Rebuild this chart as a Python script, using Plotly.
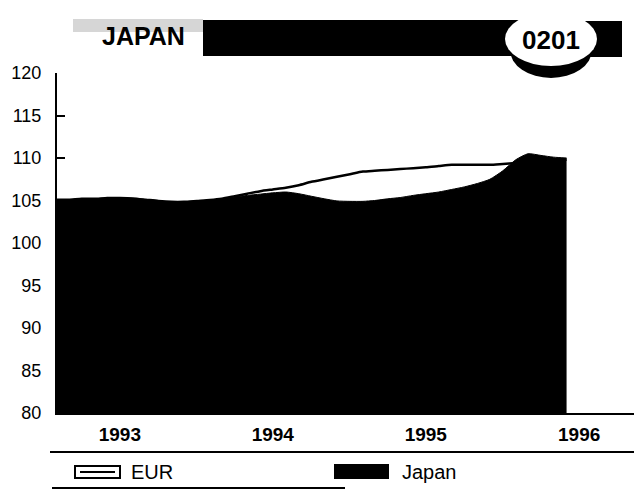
import plotly.graph_objects as go
import pandas as pd

# ---- data (monthly index, 1993-02 .. 1996-06) ----
months = pd.date_range("1993-02-01", "1996-06-01", freq="MS")
japan = [105.1, 105.1, 105.2, 105.2, 105.3, 105.3, 105.25, 105.1, 104.95, 104.85,
         104.85, 104.95, 105.05, 105.2, 105.4, 105.6, 105.75, 105.9, 106.0, 105.8,
         105.5, 105.2, 104.95, 104.9, 104.9, 105.0, 105.2, 105.35, 105.6, 105.8,
         106.0, 106.3, 106.6, 107.0, 107.5, 108.5, 109.8, 110.5, 110.3, 110.1, 110.0]
eur = [105.1, 105.1, 105.2, 105.2, 105.3, 105.3, 105.25, 105.1, 104.95, 104.85,
       104.85, 104.95, 105.05, 105.2, 105.5, 105.8, 106.1, 106.3, 106.5, 106.8,
       107.2, 107.5, 107.8, 108.1, 108.4, 108.5, 108.6, 108.7, 108.8, 108.9,
       109.05, 109.2, 109.2, 109.2, 109.2, 109.3, 109.4, 109.5, 109.6, 109.7, 109.8]
year_ticks = ["1993-07-01", "1994-07-01", "1995-07-01", "1996-07-01"]
year_labels = ["1993", "1994", "1995", "1996"]
y_ticks = [80, 85, 90, 95, 100, 105, 110, 115, 120]
title_text = "JAPAN"
code_text = "0201"
series_names = ["EUR", "Japan"]

# ---- geometry (page has an 8px body margin) ----
OFF = 8
W, H = 642 - OFF, 491 - OFF
AX_L, AX_T, AX_B = 57, 73, 413          # plot-area edges in screen pixels
L, T, B, R = AX_L - OFF, AX_T - OFF, 491 - AX_B, 0
PW, PH = 642 - AX_L, AX_B - AX_T


def px(x):
    return (x - AX_L) / PW


def py(y):
    return (AX_B - y) / PH


FONT = "Liberation Sans, Arial, Helvetica, sans-serif"

fig = go.Figure()
fig.add_trace(go.Scatter(
    x=months, y=japan, name=series_names[1], mode="lines",
    line=dict(color="black", width=1, shape="spline", smoothing=0.6),
    fill="tozeroy", fillcolor="black", showlegend=False))
fig.add_trace(go.Scatter(
    x=months, y=eur, name=series_names[0], mode="lines",
    line=dict(color="black", width=2.5, shape="spline", smoothing=0.6),
    showlegend=False))

shapes = []
annotations = []


def rect(x0, x1, y0, y1, fill, lw=0, lc="black", layer="above", kind="rect"):
    shapes.append(dict(type=kind, xref="paper", yref="paper",
                       x0=px(x0), x1=px(x1), y0=py(y1), y1=py(y0),
                       fillcolor=fill, line=dict(width=lw, color=lc), layer=layer))


def hline(x0, x1, y, w=2):
    shapes.append(dict(type="line", xref="paper", yref="paper",
                       x0=px(x0), x1=px(x1), y0=py(y), y1=py(y),
                       line=dict(color="black", width=w)))


def text(s, x, y, size, xanchor="center", bold=False):
    annotations.append(dict(text=("<b>%s</b>" % s) if bold else s,
                            xref="paper", yref="paper", x=px(x), y=py(y),
                            xanchor=xanchor, yanchor="middle", showarrow=False,
                            font=dict(family=FONT, size=size, color="black")))


# header banner
rect(73, 203, 19, 32, "#d6d6d6")
rect(203, 520, 20, 56, "black")
rect(580, 622, 21, 57, "black")
rect(510, 592, 22, 78, "black", kind="circle")
rect(505, 597, 12, 66, "white", kind="circle")
text(title_text, 143, 36, 25, bold=True)
text(code_text, 551, 40, 26, bold=True)

# rules above / below legend
hline(50, 640, 452)
hline(52, 345, 488)

# legend: EUR
rect(75, 120, 466, 478, "white", lw=2)
hline(80, 115, 472)
text(series_names[0], 129, 472, 20, xanchor="left")
# legend: Japan
rect(334, 389, 464, 479, "black")
text(series_names[1], 400, 472, 20, xanchor="left")

fig.update_layout(
    width=W, height=H,
    margin=dict(l=L, r=R, t=T, b=B, pad=0),
    paper_bgcolor="white", plot_bgcolor="white",
    shapes=shapes, annotations=annotations,
    showlegend=False,
    xaxis=dict(type="date", range=["1993-02-01", "1996-11-28"],
               tickvals=year_ticks, ticktext=["<b>%s</b>" % t for t in year_labels],
               ticks="", showgrid=False, zeroline=False,
               showline=True, linecolor="black", linewidth=2,
               tickfont=dict(family=FONT, size=19, color="black"),
               ticklabelstandoff=3),
    yaxis=dict(range=[80, 120], tickvals=y_ticks,
               ticks="inside", ticklen=8, tickwidth=2, tickcolor="black",
               showgrid=False, zeroline=False,
               showline=True, linecolor="black", linewidth=2,
               tickfont=dict(family=FONT, size=18, color="black"),
               ticklabelstandoff=10),
)

fig.write_html("out.html")
